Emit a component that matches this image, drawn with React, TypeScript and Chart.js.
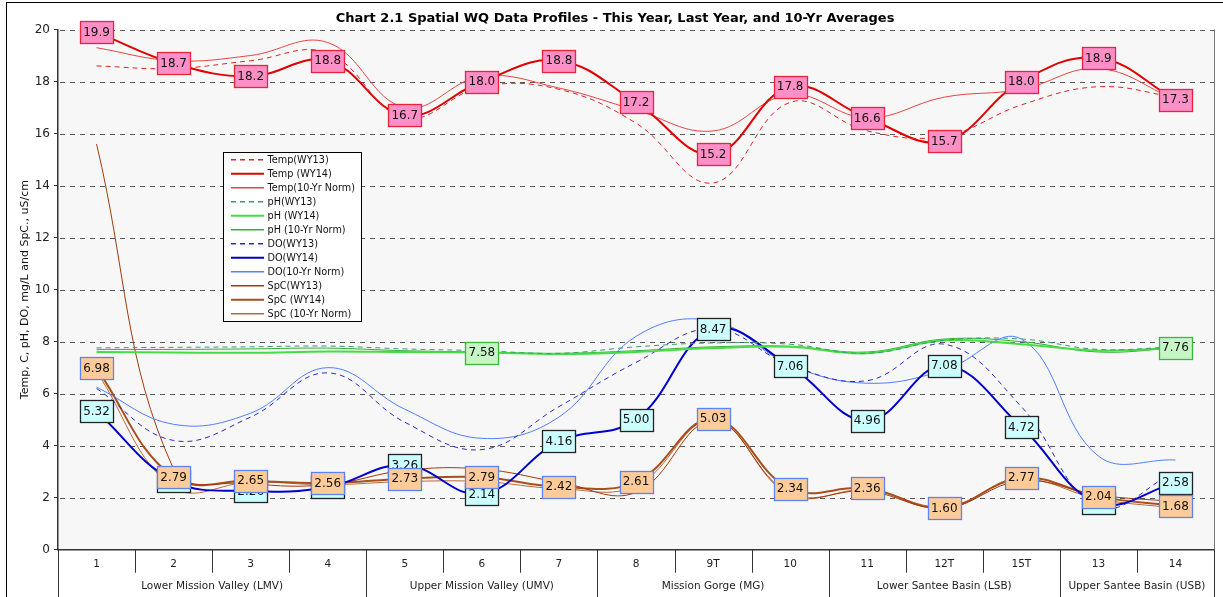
import React, { useEffect, useRef } from 'react';
import { Chart, registerables } from 'chart.js';
Chart.register(...registerables);

const FONT = '"DejaVu Sans", Verdana, sans-serif';

const categories = ['1', '2', '3', '4', '5', '6', '7', '8', '9T', '10', '11', '12T', '15T', '13', '14'];
const groupLabels = ['Lower Mission Valley (LMV)', 'Upper Mission Valley (UMV)', 'Mission Gorge (MG)', 'Lower Santee Basin (LSB)', 'Upper Santee Basin (USB)'];
const groupSizes = [4, 3, 3, 3, 2];
const yTicks = [0, 2, 4, 6, 8, 10, 12, 14, 16, 18, 20];

const tempWY13 = [18.6, 18.5, 18.8, 19.1, 16.6, 17.8, 17.7, 16.4, 14.1, 17.2, 16.1, 15.9, 17.1, 17.8, 17.4];
const tempWY14 = [19.9, 18.7, 18.2, 18.8, 16.7, 18.0, 18.8, 17.2, 15.2, 17.8, 16.6, 15.7, 18.0, 18.9, 17.3];
const tempNorm = [19.3, 18.8, 19.0, 19.5, 17.0, 18.2, 17.75, 16.9, 16.1, 17.5, 16.6, 17.4, 17.7, 18.5, 17.3];

const phWY13 = [7.76, 7.78, 7.8, 7.83, 7.72, 7.65, 7.55, 7.8, 7.95, 7.9, 7.55, 8.05, 8.1, 7.7, 7.8];
const phWY14 = [7.6, 7.58, 7.57, 7.62, 7.6, 7.58, 7.52, 7.6, 7.75, 7.8, 7.55, 8.05, 7.9, 7.65, 7.76];
const phNorm = [7.7, 7.7, 7.72, 7.75, 7.65, 7.6, 7.55, 7.65, 7.8, 7.82, 7.6, 8.1, 8.0, 7.6, 7.75];

const doWY13 = [6.2, 4.2, 5.1, 6.8, 4.9, 3.85, 5.5, 7.2, 8.5, 7.1, 6.5, 7.9, 5.5, 1.65, 3.0];
const doWY14 = [5.32, 2.65, 2.26, 2.4, 3.26, 2.14, 4.16, 5.0, 8.47, 7.06, 4.96, 7.08, 4.72, 1.8, 2.58];
const doNorm = [6.25, 4.82, 5.25, 7.0, 5.4, 4.28, 5.1, 8.2, 8.8, 7.1, 6.4, 6.9, 8.1, 3.6, 3.45];

const spcWY13 = [15.6, 3.1, 2.55, 2.5, 3.05, 3.1, 2.6, 2.2, 4.95, 2.15, 2.25, 1.6, 2.65, 2.1, 1.85];
const spcWY14 = [6.98, 2.79, 2.65, 2.56, 2.73, 2.79, 2.42, 2.61, 5.03, 2.34, 2.36, 1.6, 2.77, 2.04, 1.68];
const spcNorm = [6.85, 2.4, 2.6, 2.5, 2.62, 2.62, 2.35, 2.45, 5.0, 2.1, 2.3, 1.65, 2.7, 1.95, 1.6];

const phLabelIdx = [5, 14];
const allIdx = categories.map((_, i) => i);

function ds(label: string, data: number[], color: string, width: number, dash: number[] = []) {
  return {
    label,
    data,
    borderColor: color,
    backgroundColor: color,
    borderWidth: width,
    borderDash: dash,
    pointRadius: 0,
    pointHoverRadius: 0,
    tension: 0.4,
    fill: false,
  };
}

const labelSpecs = [
  { ds: 1, idx: allIdx, fill: '#ff8fc7', stroke: '#e8243c', digits: 1 },
  { ds: 4, idx: phLabelIdx, fill: '#c6f5c6', stroke: '#3cb83c', digits: 2 },
  { ds: 7, idx: allIdx, fill: '#ccffff', stroke: '#222222', digits: 2 },
  { ds: 10, idx: allIdx, fill: '#ffcc99', stroke: '#5b84f0', digits: 2 },
];

const bgPlugin = {
  id: 'bg',
  beforeDraw(chart: any) {
    const { ctx, chartArea: a, width, height } = chart;
    ctx.save();
    ctx.fillStyle = '#ffffff';
    ctx.fillRect(0, 0, width, height);
    ctx.fillStyle = '#f7f7f7';
    ctx.fillRect(a.left, a.top, a.right - a.left, a.bottom - a.top);
    ctx.strokeStyle = '#000000';
    ctx.lineWidth = 1;
    ctx.strokeRect(6.5, 2.5, width + 20, height + 20);
    ctx.restore();
  },
  beforeDatasetsDraw(chart: any) {
    const { ctx, chartArea: a } = chart;
    const ys = chart.scales.y;
    ctx.save();
    ctx.strokeStyle = '#5a5a5a';
    ctx.lineWidth = 1;
    ctx.setLineDash([5, 5]);
    yTicks.forEach((v) => {
      if (v === 0) return;
      const y = Math.round(ys.getPixelForValue(v)) + 0.5;
      ctx.beginPath();
      ctx.moveTo(a.left + 2, y);
      ctx.lineTo(a.right, y);
      ctx.stroke();
    });
    ctx.restore();
  },
};

const axisPlugin = {
  id: 'groupAxis',
  afterDraw(chart: any) {
    const { ctx, chartArea: a, height } = chart;
    const xs = chart.scales.x;
    const n = categories.length;
    const w = (xs.getPixelForValue(1) - xs.getPixelForValue(0));
    const groupBounds = new Set<number>();
    let acc = 0;
    groupBounds.add(0);
    groupSizes.forEach((s) => { acc += s; groupBounds.add(acc); });
    ctx.save();
    ctx.strokeStyle = '#777777';
    ctx.lineWidth = 1;
    ctx.beginPath();
    ctx.moveTo(a.right + 0.5, a.top);
    ctx.lineTo(a.right + 0.5, a.bottom);
    ctx.stroke();
    ctx.strokeStyle = '#333333';
    for (let i = 0; i <= n; i++) {
      const x = Math.round(xs.getPixelForValue(i) - w / 2) + 0.5;
      const y2 = groupBounds.has(i) ? height : a.bottom + 23;
      ctx.beginPath();
      ctx.moveTo(x, a.bottom);
      ctx.lineTo(x, y2);
      ctx.stroke();
    }
    ctx.fillStyle = '#222222';
    ctx.font = `10.5px ${FONT}`;
    ctx.textAlign = 'center';
    ctx.textBaseline = 'middle';
    let start = 0;
    groupSizes.forEach((s, gi) => {
      const x0 = xs.getPixelForValue(start) - w / 2;
      const x1 = xs.getPixelForValue(start + s - 1) + w / 2;
      ctx.fillText(groupLabels[gi], (x0 + x1) / 2, a.bottom + 36.5);
      start += s;
    });
    ctx.restore();
  },
};

const labelsPlugin = {
  id: 'valueBoxes',
  afterDatasetsDraw(chart: any) {
    const { ctx } = chart;
    ctx.save();
    ctx.font = `12px ${FONT}`;
    ctx.textAlign = 'center';
    ctx.textBaseline = 'middle';
    labelSpecs.forEach((spec) => {
      const meta = chart.getDatasetMeta(spec.ds);
      const data = chart.data.datasets[spec.ds].data as number[];
      spec.idx.forEach((i) => {
        const pt = meta.data[i];
        if (!pt) return;
        const txt = data[i].toFixed(spec.digits);
        const tw = ctx.measureText(txt).width;
        const bw = Math.round(tw + 6);
        const bh = 22;
        const x = Math.round(pt.x - bw / 2) + 0.5;
        const y = Math.round(pt.y - bh / 2) + 0.5;
        ctx.fillStyle = spec.fill;
        ctx.fillRect(x, y, bw, bh);
        ctx.strokeStyle = spec.stroke;
        ctx.lineWidth = 1.3;
        ctx.strokeRect(x, y, bw, bh);
        ctx.fillStyle = '#111111';
        ctx.fillText(txt, pt.x, pt.y + 0.5);
      });
    });
    // legend box
    const lx = 223.5, ly = 152.5, lw = 138, lh = 169;
    ctx.fillStyle = '#ffffff';
    ctx.fillRect(lx, ly, lw, lh);
    ctx.strokeStyle = '#000000';
    ctx.lineWidth = 1;
    ctx.strokeRect(lx, ly, lw, lh);
    ctx.font = `9.7px ${FONT}`;
    ctx.textAlign = 'left';
    chart.data.datasets.forEach((d: any, i: number) => {
      const cy = 159.7 + i * 14;
      ctx.strokeStyle = d.borderColor;
      ctx.lineWidth = Math.max(1.5, d.borderWidth);
      ctx.setLineDash(d.borderDash && d.borderDash.length ? [5, 4] : []);
      ctx.beginPath();
      ctx.moveTo(231, cy);
      ctx.lineTo(264, cy);
      ctx.stroke();
      ctx.setLineDash([]);
      ctx.fillStyle = '#111111';
      ctx.fillText(d.label, 267.5, cy + 0.5);
    });
    ctx.restore();
  },
};

export default function App() {
  const ref = useRef<HTMLCanvasElement>(null);
  useEffect(() => {
    if (!ref.current) return;
    const chart = new Chart(ref.current, {
      type: 'line',
      data: {
        labels: categories,
        datasets: [
          ds('Temp(WY13)', tempWY13, '#e02424', 1, [5, 4]),
          ds('Temp (WY14)', tempWY14, '#e00000', 2),
          ds('Temp(10-Yr Norm)', tempNorm, '#e84444', 1),
          ds('pH(WY13)', phWY13, '#3a9a78', 1, [5, 4]),
          ds('pH (WY14)', phWY14, '#44dd44', 2),
          ds('pH (10-Yr Norm)', phNorm, '#30b030', 1),
          ds('DO(WY13)', doWY13, '#2a2acc', 1, [5, 4]),
          ds('DO(WY14)', doWY14, '#0000cc', 2),
          ds('DO(10-Yr Norm)', doNorm, '#4f80ff', 1),
          ds('SpC(WY13)', spcWY13, '#a33a08', 1),
          ds('SpC (WY14)', spcWY14, '#a8501c', 2),
          ds('SpC (10-Yr Norm)', spcNorm, '#b86a40', 1),
        ],
      },
      options: {
        responsive: false,
        animation: false,
        devicePixelRatio: 1,
        layout: { padding: { left: 16, right: 9, top: 0, bottom: 0 } },
        plugins: {
          legend: { display: false },
          tooltip: { enabled: false },
          title: {
            display: true,
            text: 'Chart 2.1 Spatial WQ Data Profiles - This Year, Last Year, and 10-Yr Averages',
            font: { family: FONT, size: 13, weight: 'bold' },
            color: '#000000',
            padding: { top: 11.2, bottom: 2.7 },
          },
        },
        scales: {
          x: {
            type: 'category',
            offset: true,
            grid: { display: true, drawOnChartArea: false, drawTicks: false, offset: true },
            border: { display: true, color: '#333333', width: 1.5 },
            ticks: { font: { family: FONT, size: 10.5 }, color: '#222222', padding: 8, maxRotation: 0, autoSkip: false },
            afterFit: (s: any) => { s.height = 47.3; },
          },
          y: {
            min: 0,
            max: 20,
            afterBuildTicks: (s: any) => { s.ticks = yTicks.map((v) => ({ value: v })); },
            grid: { display: true, drawOnChartArea: false, tickLength: 4, tickColor: '#333333', tickBorderDash: [] },
            border: { display: true, color: '#333333', width: 1.5 },
            ticks: { font: { family: FONT, size: 12 }, color: '#222222', padding: 4 },
            title: {
              display: true,
              text: 'Temp, C, pH, DO, mg/L and SpC., uS/cm',
              font: { family: FONT, size: 11 },
              color: '#111111',
              padding: { top: 2.4, bottom: 0 },
            },
            afterFit: (s: any) => { s.width = 42; },
          },
        },
      },
      plugins: [bgPlugin, labelsPlugin, axisPlugin],
    } as any);
    return () => chart.destroy();
  }, []);
  return (
    <div style={{ position: 'absolute', left: 0, top: 0, width: 1223, height: 597 }}>
      <canvas ref={ref} width={1223} height={597} style={{ display: 'block' }} />
    </div>
  );
}
